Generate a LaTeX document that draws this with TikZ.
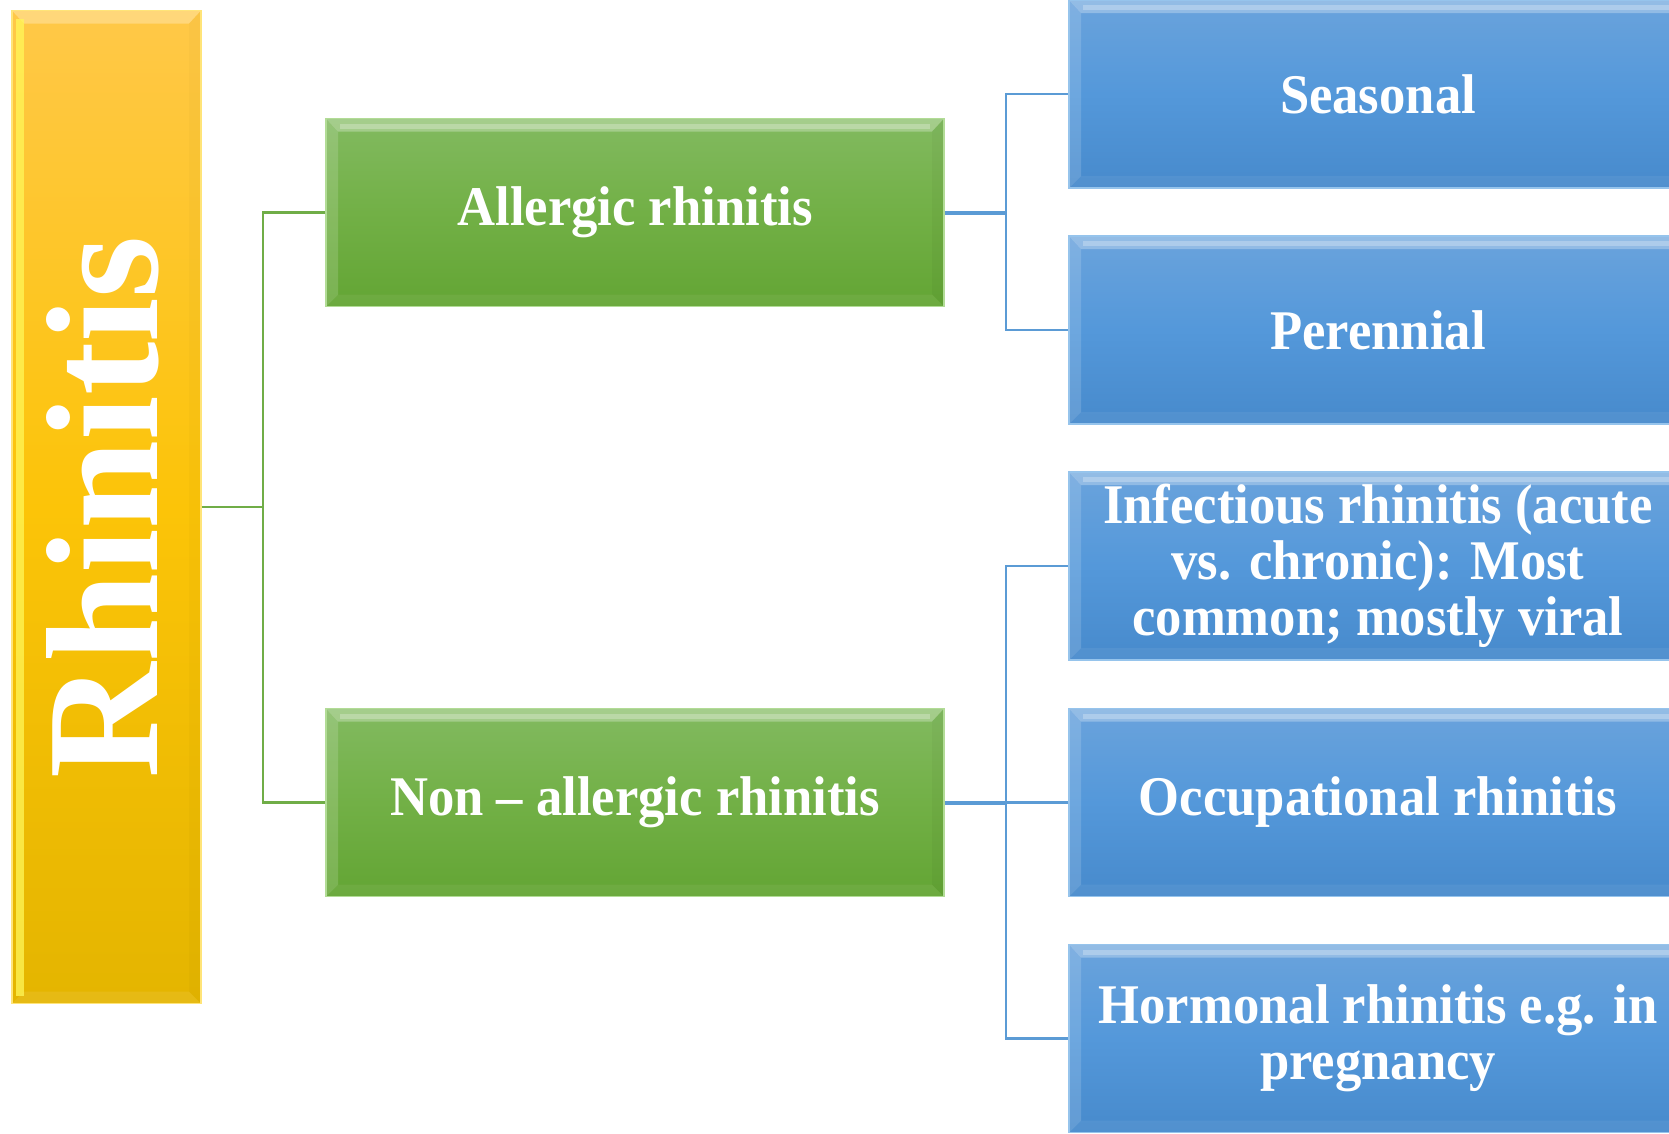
\documentclass[tikz,border=0pt]{standalone}
\usepackage{fontspec}
\setmainfont{Liberation Serif}
\newfontfamily\condserif{Liberation Serif}[FakeStretch=0.94]
\definecolor{ytop}{RGB}{255,200,72}
\definecolor{ymid}{RGB}{252,196,8}
\definecolor{ybot}{RGB}{228,181,0}
\definecolor{yedge}{RGB}{255,228,120}
\definecolor{gtop}{RGB}{130,186,96}
\definecolor{gmid}{RGB}{114,176,70}
\definecolor{gbot}{RGB}{99,165,52}
\definecolor{gedge}{RGB}{178,220,150}
\definecolor{btop}{RGB}{106,163,220}
\definecolor{bmid}{RGB}{84,152,218}
\definecolor{bbot}{RGB}{71,138,204}
\definecolor{bedge}{RGB}{150,196,236}
\definecolor{gline}{RGB}{112,173,71}
\definecolor{bline}{RGB}{91,155,213}
\tikzset{
  bevel/.style={path picture={
    \fill[white,opacity=0.28] (path picture bounding box.north west) -- (path picture bounding box.north east)
      -- ([xshift=-12pt,yshift=-13pt]path picture bounding box.north east) -- ([xshift=12pt,yshift=-13pt]path picture bounding box.north west) -- cycle;
    \fill[white,opacity=0.25] ([xshift=14pt,yshift=-5pt]path picture bounding box.north west) rectangle ([xshift=-14pt,yshift=-10pt]path picture bounding box.north east);
    \fill[white,opacity=0.15] (path picture bounding box.north west) -- ([xshift=12pt,yshift=-13pt]path picture bounding box.north west)
      -- ([xshift=12pt,yshift=12pt]path picture bounding box.south west) -- (path picture bounding box.south west) -- cycle;
    \fill[white,opacity=0.06] (path picture bounding box.south west) -- ([xshift=12pt,yshift=12pt]path picture bounding box.south west)
      -- ([xshift=-12pt,yshift=12pt]path picture bounding box.south east) -- (path picture bounding box.south east) -- cycle;
    \fill[black,opacity=0.03] (path picture bounding box.south east) -- ([xshift=-12pt,yshift=12pt]path picture bounding box.south east)
      -- ([xshift=-12pt,yshift=-13pt]path picture bounding box.north east) -- (path picture bounding box.north east) -- cycle;
  }},
  ystripe/.style={path picture={
    \fill[white,opacity=0.28] (path picture bounding box.north west) -- (path picture bounding box.north east)
      -- ([xshift=-12pt,yshift=-13pt]path picture bounding box.north east) -- ([xshift=12pt,yshift=-13pt]path picture bounding box.north west) -- cycle;
    \fill[white,opacity=0.08] (path picture bounding box.south west) -- ([xshift=12pt,yshift=12pt]path picture bounding box.south west)
      -- ([xshift=-12pt,yshift=12pt]path picture bounding box.south east) -- (path picture bounding box.south east) -- cycle;
    \fill[black,opacity=0.02] (path picture bounding box.south east) -- ([xshift=-12pt,yshift=12pt]path picture bounding box.south east)
      -- ([xshift=-12pt,yshift=-13pt]path picture bounding box.north east) -- (path picture bounding box.north east) -- cycle;
    \fill[yellow!65!white,opacity=0.75] ([xshift=4pt,yshift=-8pt]path picture bounding box.north west) rectangle ([xshift=12pt,yshift=8pt]path picture bounding box.south west);
  }},
  catbox/.style={rectangle, minimum width=618, minimum height=188, inner sep=0pt,
    text=white, align=center, line width=1.5pt, bevel,
    font=\condserif\fontsize{56}{56}\selectfont\bfseries},
  greenbox/.style={catbox, draw=gedge, top color=gtop, bottom color=gbot, middle color=gmid},
  bluebox/.style={catbox, draw=bedge, top color=btop, bottom color=bbot, middle color=bmid},
  rootbox/.style={rectangle, minimum width=189, minimum height=993, inner sep=0pt,
    draw=yedge, line width=1.5pt, top color=ytop, bottom color=ybot, middle color=ymid, ystripe},
  gconn/.style={draw=gline, line width=2.5pt},
  bconn/.style={draw=bline, line width=2.5pt},
  bstem/.style={draw=bline, line width=4pt}
}
\begin{document}
\begin{tikzpicture}[x=1pt,y=-1pt]
\useasboundingbox (0,0) rectangle (1669,1133);
\clip (0,0) rectangle (1669,1133);
\fill[white] (0,0) rectangle (1669,1133);
% nodes
\node[rootbox] (root) at (106.5,507) {};
\node[text=white, rotate=90, inner sep=0pt, font=\fontsize{160}{160}\selectfont\bfseries] (roottext) at (103,507) {Rhinitis};
\node[greenbox] (allergic) at (635,212.5) {Allergic rhinitis};
\node[greenbox] (nonallergic) at (635,802.5) {Non – allergic rhinitis};
\node[bluebox] (seasonal) at (1378,94) {Seasonal};
\node[bluebox] (perennial) at (1378,330) {Perennial};
\node[bluebox] (infectious) at (1378,566) {Infectious rhinitis (acute\\vs. chronic): Most\\common; mostly viral};
\node[bluebox] (occupational) at (1378,802.5) {Occupational rhinitis};
\node[bluebox] (hormonal) at (1378,1038.5) {Hormonal rhinitis e.g. in\\pregnancy};
% trunk coordinates
\coordinate (gt) at (263,507);
\coordinate (bt) at (1006,507);
% connectors
\draw[gconn] (root.east) -- (gt);
\draw[gconn] (allergic.west) -- (allergic.west -| gt) -- (nonallergic.west -| gt) -- (nonallergic.west);
\draw[bstem] (allergic.east) -- (allergic.east -| bt);
\draw[bconn] (seasonal.west) -- (seasonal.west -| bt) -- (perennial.west -| bt) -- (perennial.west);
\draw[bstem] (nonallergic.east) -- (nonallergic.east -| bt);
\draw[bconn] (infectious.west) -- (infectious.west -| bt) -- (hormonal.west -| bt) -- (hormonal.west);
\draw[bconn] (occupational.west) -- (occupational.west -| bt);
\end{tikzpicture}
\end{document}
